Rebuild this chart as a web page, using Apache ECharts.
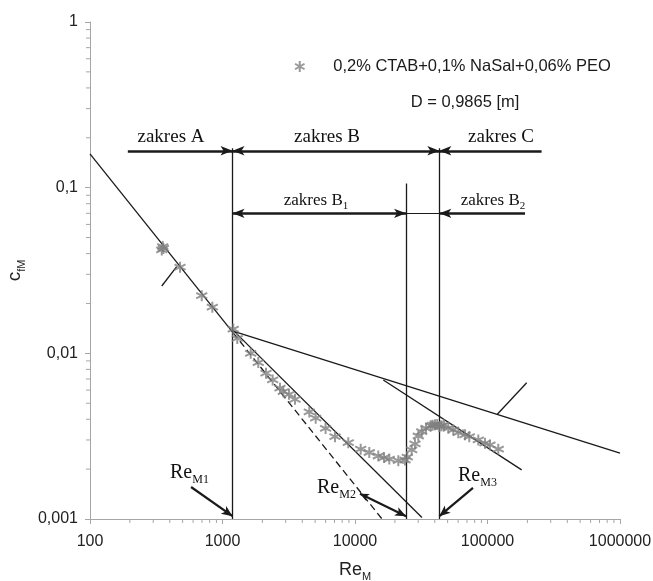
<!DOCTYPE html>
<html><head><meta charset="utf-8">
<script src="https://cdn.jsdelivr.net/npm/echarts@6/dist/echarts.min.js"></script>
<style>html,body{margin:0;padding:0;background:#fff}#c{width:653px;height:581px}</style>
</head><body><div id="c"></div>
<script>
// ---- data ----
const seriesName = '0,2% CTAB+0,1% NaSal+0,06% PEO';
const reX = [348, 354, 358, 478, 697, 838, 1206, 1293, 1632, 1863, 2130, 2392, 2716, 2876, 3176, 3525, 4520, 5051, 6000, 7063, 8900, 11040, 12820, 14990, 16560, 18150, 21230, 23850, 24810, 26790, 28370, 30040, 31870, 34340, 37260, 38500, 40160, 41700, 43270, 44900, 46960, 50600, 55200, 60200, 67640, 72880, 85230, 95740, 104400, 120600];
const cfY = [0.0421, 0.0441, 0.0430, 0.0331, 0.0223, 0.0190, 0.0140, 0.0123, 0.0100, 0.00879, 0.00759, 0.00691, 0.00616, 0.00587, 0.00566, 0.00528, 0.00443, 0.00406, 0.00352, 0.00314, 0.00289, 0.00264, 0.00252, 0.00240, 0.00235, 0.00230, 0.00225, 0.00227, 0.00236, 0.00261, 0.00284, 0.00317, 0.00337, 0.00353, 0.00365, 0.00368, 0.00370, 0.00372, 0.00361, 0.00365, 0.00370, 0.00353, 0.00345, 0.00332, 0.00322, 0.00314, 0.00300, 0.00287, 0.00280, 0.00264];

const xTickLabels = ['100', '1000', '10000', '100000', '1000000'];
const yTickLabels = ['0,001', '0,01', '0,1', '1'];
const xDecades = [100, 1000, 10000, 100000];
const yDecades = [0.001, 0.01, 0.1];
const minorMult = [2, 3, 4, 5, 6, 7, 8, 9];

const laminarRe = [100, 1200];       const laminarCf = [0.16, 0.01333];
const laminarExtRe = [1200, 16000];  const laminarExtCf = [0.01333, 0.001];
const transRe = [1200, 32000];       const transCf = [0.0138, 0.00102];
const blasiusRe = [1200, 1000000];   const blasiusCf = [0.0136, 0.0025];
const upperRe = [16350, 181000];     const upperCf = [0.0069, 0.00198];
const leader1Re = [348, 451];        const leader1Cf = [0.0255, 0.0334];
const leader2Re = [118600, 197600];  const leader2Cf = [0.00429, 0.00665];

const reM = [1190, 24300, 43300];
const reMTop = [0.173, 0.106, 0.173];
const axisMinCf = 0.001;
const rowCf = [0.167, 0.070];
const zakresAStart = 193, zakresCStart = 256000, zakresB2Start = 192000;
const reMArrowFromRe = [579, 10910, 77720];
const reMArrowFromCf = [0.00156, 0.00142, 0.00154];
const reMArrowToCf = 0.00104;

// ---- chart ----
const SANS = 'Liberation Sans', SERIF = 'Liberation Serif';
const zip = (a, b) => a.map((v, i) => [v, b[i]]);
const xMinor = [], yMinor = [];
xDecades.forEach(d => minorMult.forEach(m => xMinor.push(d * m)));
yDecades.forEach(d => minorMult.forEach(m => yMinor.push(+(d * m).toPrecision(3))));

const axisGray = '#a6a6a6';
const ink = '#1a1a1a';
const starGray = '#808080';
const starPath = 'path://M5,0L5,10M0.67,2.5L9.33,7.5M0.67,7.5L9.33,2.5';

function modelLine(re, cf, dashed) {
  return {
    type: 'line', data: zip(re, cf), showSymbol: false, symbol: 'none', silent: true,
    lineStyle: { color: ink, width: 1.3, type: dashed ? [7, 4] : 'solid' }, z: 3, animation: false
  };
}
function pointerArrows(idx, symbol) {
  return {
    type: 'lines', coordinateSystem: 'cartesian2d', silent: true, z: 4,
    symbol: symbol, symbolSize: [[6, 9], [7, 11]],
    lineStyle: { color: ink, width: 2.2, opacity: 1 },
    data: idx.map(i => ({ coords: [[reMArrowFromRe[i], reMArrowFromCf[i]], [reM[i], reMArrowToCf]] }))
  };
}
const rich = (big, small, fam) => ({
  a: { fontFamily: fam, fontSize: big, fill: '#111', padding: [0, 0, 3, 0], verticalAlign: 'bottom' },
  b: { fontFamily: fam, fontSize: small, fill: '#111', verticalAlign: 'bottom' }
});

const chart = echarts.init(document.getElementById('c'), null, { renderer: 'canvas' });
chart.setOption({
  animation: false,
  backgroundColor: '#fff',
  grid: { left: 90, top: 22, width: 530, height: 497, outerBoundsMode: 'none' },
  legend: {
    data: [{ name: seriesName, icon: starPath }],
    left: 294, top: 58, padding: 0, itemWidth: 11, itemHeight: 11,
    itemStyle: { color: 'rgba(0,0,0,0)', borderColor: starGray, borderWidth: 2 },
    textStyle: { fontFamily: SANS, fontSize: 16.5, color: ink, padding: [0, 0, 0, 23] },
    selectedMode: false
  },
  xAxis: {
    type: 'log', min: 100, max: 1000000,
    name: '{a|Re}{b|M}', nameLocation: 'middle', nameGap: 42,
    nameTextStyle: { rich: {
      a: { fontFamily: SANS, fontSize: 18, color: '#222', padding: [0, 0, 3, 0], verticalAlign: 'bottom' },
      b: { fontFamily: SANS, fontSize: 11, color: '#222', verticalAlign: 'bottom' } } },
    axisLine: { show: true, lineStyle: { color: axisGray, width: 1 } },
    axisTick: { show: true, length: 5, inside: false, lineStyle: { color: axisGray } },
    splitLine: { show: false },
    axisLabel: {
      margin: 15, fontFamily: SANS, fontSize: 16, color: '#222',
      formatter: v => xTickLabels[Math.round(Math.log10(v)) - 2]
    }
  },
  yAxis: {
    type: 'log', min: 0.001, max: 1,
    name: '{a|c}{b|fM}', nameLocation: 'middle', nameGap: 60, nameRotate: 90,
    nameTextStyle: { rich: {
      a: { fontFamily: SANS, fontSize: 19, color: '#222', padding: [0, 0, 3, 0], verticalAlign: 'bottom' },
      b: { fontFamily: SANS, fontSize: 11, color: '#222', verticalAlign: 'bottom' } } },
    axisLine: { show: true, lineStyle: { color: axisGray, width: 1 } },
    axisTick: { show: true, length: 5, inside: false, lineStyle: { color: axisGray } },
    splitLine: { show: false },
    axisLabel: {
      margin: 12, fontFamily: SANS, fontSize: 16, color: '#222',
      formatter: v => yTickLabels[Math.round(Math.log10(v)) + 3]
    }
  },
  series: [
    // minor ticks (library coordinates)
    {
      type: 'custom', silent: true, clip: false, z: 1,
      data: xMinor.map(v => [v, axisMinCf]),
      renderItem: (p, api) => {
        const pt = api.coord([api.value(0), api.value(1)]);
        return { type: 'line', shape: { x1: pt[0], y1: pt[1], x2: pt[0], y2: pt[1] + 4 }, style: { stroke: axisGray, lineWidth: 1 } };
      }
    },
    {
      type: 'custom', silent: true, clip: false, z: 1,
      data: yMinor.map(v => [100, v]),
      renderItem: (p, api) => {
        const pt = api.coord([api.value(0), api.value(1)]);
        return { type: 'line', shape: { x1: pt[0] - 4, y1: pt[1], x2: pt[0], y2: pt[1] }, style: { stroke: axisGray, lineWidth: 1 } };
      }
    },
    modelLine(laminarRe, laminarCf),
    modelLine(laminarExtRe, laminarExtCf, true),
    modelLine(transRe, transCf),
    modelLine(blasiusRe, blasiusCf),
    modelLine(upperRe, upperCf),
    modelLine(leader1Re, leader1Cf),
    modelLine(leader2Re, leader2Cf),
    // vertical boundaries + thin link between B1 and B2
    {
      type: 'lines', coordinateSystem: 'cartesian2d', silent: true, z: 3, symbol: 'none',
      lineStyle: { color: ink, width: 1.3, opacity: 1 },
      data: reM.map((r, i) => ({ coords: [[r, axisMinCf], [r, reMTop[i]]] }))
        .concat([{ coords: [[reM[1], rowCf[1]], [reM[2], rowCf[1]]], lineStyle: { width: 1 } }])
    },
    // single-headed range arrows
    {
      type: 'lines', coordinateSystem: 'cartesian2d', silent: true, z: 4,
      symbol: ['none', 'arrow'], symbolSize: [[7, 12], [7, 12]],
      lineStyle: { color: ink, width: 2.6, opacity: 1 },
      data: [
        { coords: [[zakresAStart, rowCf[0]], [reM[0], rowCf[0]]] },
        { coords: [[zakresCStart, rowCf[0]], [reM[2], rowCf[0]]] },
        { coords: [[zakresB2Start, rowCf[1]], [reM[2], rowCf[1]]] }
      ]
    },
    // double-headed range arrows
    {
      type: 'lines', coordinateSystem: 'cartesian2d', silent: true, z: 4,
      symbol: ['arrow', 'arrow'], symbolSize: [[7, 12], [7, 12]],
      lineStyle: { color: ink, width: 2.6, opacity: 1 },
      data: [
        { coords: [[reM[0], rowCf[0]], [reM[2], rowCf[0]]] },
        { coords: [[reM[0], rowCf[1]], [reM[1], rowCf[1]]] }
      ]
    },
    // Re_M pointer arrows
    pointerArrows([0, 2], ['none', 'arrow']),
    pointerArrows([1], ['arrow', 'arrow']),
    {
      name: seriesName, type: 'scatter', data: zip(reX, cfY), z: 5,
      symbol: starPath, symbolSize: 11,
      itemStyle: { color: 'rgba(0,0,0,0)', borderColor: starGray, borderWidth: 2 }
    }
  ],
  graphic: [
    { type: 'text', x: 465, y: 102, style: { text: 'D = 0,9865 [m]', font: '16.5px "Liberation Sans"', fill: ink, align: 'center', verticalAlign: 'middle' } },
    { type: 'text', x: 171, y: 137, style: { text: 'zakres A', font: '19px "Liberation Serif"', fill: '#111', align: 'center', verticalAlign: 'middle' } },
    { type: 'text', x: 327, y: 137, style: { text: 'zakres B', font: '19px "Liberation Serif"', fill: '#111', align: 'center', verticalAlign: 'middle' } },
    { type: 'text', x: 501, y: 137, style: { text: 'zakres C', font: '19px "Liberation Serif"', fill: '#111', align: 'center', verticalAlign: 'middle' } },
    { type: 'text', x: 316, y: 212, style: { text: '{a|zakres B}{b|1}', align: 'center', verticalAlign: 'bottom', rich: rich(17, 11, SERIF) } },
    { type: 'text', x: 493, y: 212, style: { text: '{a|zakres B}{b|2}', align: 'center', verticalAlign: 'bottom', rich: rich(17, 11, SERIF) } },
    { type: 'text', x: 170, y: 486, style: { text: '{a|Re}{b|M1}', align: 'left', verticalAlign: 'bottom', rich: rich(20, 12, SERIF) } },
    { type: 'text', x: 317, y: 501, style: { text: '{a|Re}{b|M2}', align: 'left', verticalAlign: 'bottom', rich: rich(20, 12, SERIF) } },
    { type: 'text', x: 458, y: 489, style: { text: '{a|Re}{b|M3}', align: 'left', verticalAlign: 'bottom', rich: rich(20, 12, SERIF) } }
  ]
});
</script></body></html>
